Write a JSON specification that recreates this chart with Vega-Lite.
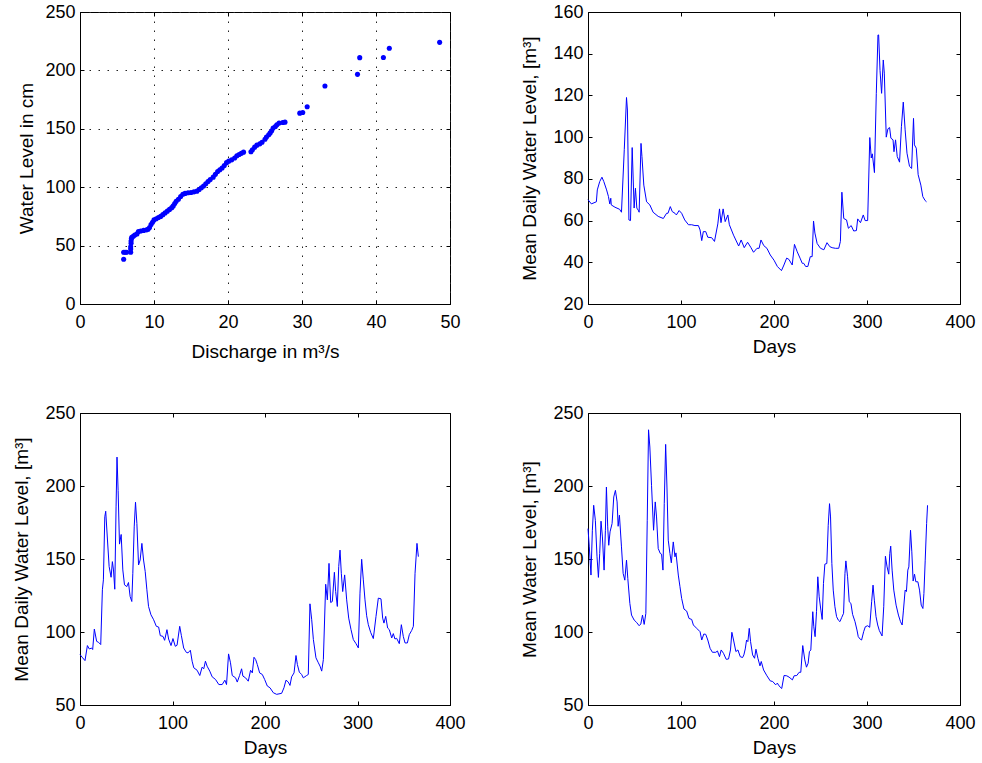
{
  "$schema": "https://vega.github.io/schema/vega-lite/v6.json",
  "background": "white",
  "padding": {"left": 12, "top": 2, "right": 5, "bottom": 5},
  "config": {
    "view": {"stroke": "#000", "strokeWidth": 1},
    "font": "Liberation Sans",
    "axis": {
      "labelFont": "Liberation Sans", "labelFontSize": 18, "labelColor": "#000",
      "titleFont": "Liberation Sans", "titleFontSize": 19, "titleFontWeight": "normal", "titleColor": "#000",
      "domainColor": "#000", "domainWidth": 1, "tickColor": "#000", "tickSize": -4, "tickWidth": 1,
      "grid": false, "gridColor": "#222", "gridDash": [1.5, 7.5], "gridWidth": 1, "gridOpacity": 1,
      "labelFlush": false, "labelOverlap": false, "titlePadding": 6
    },
    "axisX": {"labelPadding": 13},
    "axisY": {"labelPadding": 9}
  },
  "datasets": {
    "scatter": [
      {"q": 5.9, "h": 38.3}, {"q": 5.9, "h": 44.3}, {"q": 6.1, "h": 44.3}, {"q": 6.3, "h": 44.3}, {"q": 6.85, "h": 44.3},
      {"q": 6.85, "h": 47}, {"q": 6.85, "h": 49}, {"q": 6.9, "h": 52}, {"q": 6.9, "h": 54}, {"q": 6.95, "h": 56},
      {"q": 7.0, "h": 57}, {"q": 7.2, "h": 58}, {"q": 7.4, "h": 59}, {"q": 7.7, "h": 60}, {"q": 7.9, "h": 62},
      {"q": 8.2, "h": 62.5}, {"q": 8.6, "h": 63}, {"q": 9.0, "h": 63.5}, {"q": 9.2, "h": 64}, {"q": 9.4, "h": 65.5},
      {"q": 9.6, "h": 68}, {"q": 9.8, "h": 70}, {"q": 10.0, "h": 72}, {"q": 10.3, "h": 73}, {"q": 10.6, "h": 74},
      {"q": 10.9, "h": 75}, {"q": 11.2, "h": 76.5}, {"q": 11.5, "h": 78}, {"q": 11.8, "h": 79.5}, {"q": 12.1, "h": 81},
      {"q": 12.4, "h": 82.5}, {"q": 12.6, "h": 84}, {"q": 12.8, "h": 86}, {"q": 13.0, "h": 88}, {"q": 13.3, "h": 89.7},
      {"q": 13.6, "h": 92}, {"q": 13.9, "h": 94}, {"q": 14.2, "h": 94.7}, {"q": 14.6, "h": 95.2}, {"q": 15.0, "h": 95.5},
      {"q": 15.4, "h": 96}, {"q": 15.8, "h": 96.6}, {"q": 16.1, "h": 98}, {"q": 16.4, "h": 99.5}, {"q": 16.7, "h": 101},
      {"q": 17.0, "h": 103}, {"q": 17.3, "h": 104.9}, {"q": 17.6, "h": 106.5}, {"q": 18.0, "h": 108.6}, {"q": 18.3, "h": 111},
      {"q": 18.6, "h": 113.5}, {"q": 18.9, "h": 115}, {"q": 19.2, "h": 116.5}, {"q": 19.5, "h": 118.5}, {"q": 19.8, "h": 121},
      {"q": 20.1, "h": 122.3}, {"q": 20.5, "h": 123.4}, {"q": 20.9, "h": 125}, {"q": 21.2, "h": 126.9}, {"q": 21.5, "h": 128},
      {"q": 21.8, "h": 129}, {"q": 22.1, "h": 130}, {"q": 23.1, "h": 130.3}, {"q": 23.3, "h": 132}, {"q": 23.6, "h": 134.3},
      {"q": 23.9, "h": 136}, {"q": 24.3, "h": 137.1}, {"q": 24.6, "h": 138.5}, {"q": 25.0, "h": 141}, {"q": 25.2, "h": 143},
      {"q": 25.5, "h": 144.9}, {"q": 25.7, "h": 146.5}, {"q": 25.9, "h": 148.3}, {"q": 26.1, "h": 150.6}, {"q": 26.4, "h": 152},
      {"q": 26.6, "h": 153.4}, {"q": 26.9, "h": 154.9}, {"q": 27.4, "h": 155.4}, {"q": 27.7, "h": 155.7}, {"q": 29.7, "h": 163.4},
      {"q": 30.1, "h": 164}, {"q": 30.7, "h": 168.9}, {"q": 33.1, "h": 186.6}, {"q": 37.5, "h": 196.6}, {"q": 37.8, "h": 210.9},
      {"q": 41.0, "h": 211}, {"q": 41.8, "h": 219}, {"q": 48.6, "h": 224}
    ],
    "tr": [
      {"d": 0, "v": 70}, {"d": 3.6, "v": 68}, {"d": 9, "v": 69}, {"d": 10, "v": 74.7}, {"d": 12.6, "v": 78.7}, {"d": 15, "v": 80.8},
      {"d": 17, "v": 78.7}, {"d": 20, "v": 74.7}, {"d": 22, "v": 71.5}, {"d": 23.4, "v": 68}, {"d": 24.5, "v": 70.7}, {"d": 25, "v": 67.5},
      {"d": 29, "v": 66.4}, {"d": 34, "v": 65.4}, {"d": 36, "v": 64}, {"d": 39, "v": 94}, {"d": 41.4, "v": 119}, {"d": 42.4, "v": 113},
      {"d": 44, "v": 60.3}, {"d": 45.7, "v": 60}, {"d": 47.5, "v": 95}, {"d": 49.6, "v": 66}, {"d": 51, "v": 75.5}, {"d": 52.5, "v": 66},
      {"d": 54, "v": 65}, {"d": 55, "v": 64}, {"d": 57, "v": 97}, {"d": 58, "v": 90.7}, {"d": 60, "v": 77}, {"d": 63, "v": 69},
      {"d": 66.5, "v": 67.5}, {"d": 70, "v": 64}, {"d": 75.5, "v": 62}, {"d": 81, "v": 61}, {"d": 84.5, "v": 63.5}, {"d": 86, "v": 63.5},
      {"d": 88.5, "v": 66.7}, {"d": 90.6, "v": 64.3}, {"d": 93.5, "v": 63.5}, {"d": 95, "v": 62.7}, {"d": 98, "v": 64.8}, {"d": 100.7, "v": 63.5},
      {"d": 104, "v": 60.3}, {"d": 108, "v": 58}, {"d": 111.5, "v": 58}, {"d": 115, "v": 57.6}, {"d": 118.7, "v": 57.6}, {"d": 120.5, "v": 55.5},
      {"d": 122.3, "v": 50.4}, {"d": 124, "v": 54.7}, {"d": 126.6, "v": 54.7}, {"d": 128.8, "v": 52}, {"d": 133, "v": 51.8}, {"d": 136, "v": 50},
      {"d": 139.6, "v": 58.4}, {"d": 141.4, "v": 65.6}, {"d": 143, "v": 59}, {"d": 145.3, "v": 65.6}, {"d": 147.5, "v": 59.5}, {"d": 150.4, "v": 62.7},
      {"d": 152, "v": 58}, {"d": 156.5, "v": 53}, {"d": 162, "v": 47.8}, {"d": 164.7, "v": 50.7}, {"d": 168, "v": 47}, {"d": 171.6, "v": 49.6},
      {"d": 175, "v": 47.2}, {"d": 178, "v": 44.8}, {"d": 181.7, "v": 46.7}, {"d": 184, "v": 46.7}, {"d": 186, "v": 50.7}, {"d": 189, "v": 48},
      {"d": 192.4, "v": 46.7}, {"d": 196, "v": 43.5}, {"d": 200, "v": 41}, {"d": 203.6, "v": 38}, {"d": 208, "v": 36}, {"d": 210.7, "v": 38.7},
      {"d": 213.6, "v": 42}, {"d": 216, "v": 41.4}, {"d": 219.6, "v": 38.7}, {"d": 222, "v": 48.6}, {"d": 225, "v": 45}, {"d": 228, "v": 42},
      {"d": 230.4, "v": 39.5}, {"d": 232, "v": 39.5}, {"d": 234, "v": 38}, {"d": 236.4, "v": 38}, {"d": 239, "v": 42.7}, {"d": 241, "v": 42.7},
      {"d": 242.5, "v": 59.8}, {"d": 244, "v": 54}, {"d": 246.4, "v": 49}, {"d": 250, "v": 46.7}, {"d": 253.6, "v": 46}, {"d": 257, "v": 49.4},
      {"d": 260, "v": 47.5}, {"d": 262.5, "v": 47}, {"d": 266, "v": 46.7}, {"d": 269.6, "v": 46.7}, {"d": 271.4, "v": 50}, {"d": 273, "v": 73.6},
      {"d": 275, "v": 61}, {"d": 278, "v": 60.3}, {"d": 280, "v": 56.3}, {"d": 283, "v": 57.6}, {"d": 285.7, "v": 55}, {"d": 288.6, "v": 55.2},
      {"d": 290, "v": 60.8}, {"d": 293, "v": 59}, {"d": 296, "v": 62.7}, {"d": 298, "v": 60}, {"d": 300.7, "v": 60}, {"d": 303, "v": 99.8},
      {"d": 304.6, "v": 90}, {"d": 305.7, "v": 92}, {"d": 308, "v": 83}, {"d": 310, "v": 121}, {"d": 311.8, "v": 149}, {"d": 312.5, "v": 149},
      {"d": 314, "v": 132}, {"d": 315.7, "v": 121}, {"d": 317.5, "v": 137}, {"d": 318.6, "v": 130.7}, {"d": 320.7, "v": 100}, {"d": 322.5, "v": 104},
      {"d": 324.3, "v": 104.6}, {"d": 325.7, "v": 99.5}, {"d": 328, "v": 98.7}, {"d": 329, "v": 93}, {"d": 330.7, "v": 98.7}, {"d": 332.5, "v": 90.7},
      {"d": 335, "v": 88}, {"d": 337, "v": 105}, {"d": 339, "v": 116.8}, {"d": 341, "v": 103.5}, {"d": 343, "v": 92.3}, {"d": 345.7, "v": 86},
      {"d": 348, "v": 85}, {"d": 350, "v": 109}, {"d": 351, "v": 96.3}, {"d": 353, "v": 94.7}, {"d": 355, "v": 82}, {"d": 357.9, "v": 77},
      {"d": 360, "v": 71.5}, {"d": 362.5, "v": 69.6}, {"d": 364, "v": 69}
    ],
    "bl": [
      {"d": 0, "v": 84.5}, {"d": 2.9, "v": 82.3}, {"d": 5.4, "v": 80.4}, {"d": 8, "v": 90.7}, {"d": 10, "v": 88.4}, {"d": 12.7, "v": 89},
      {"d": 13.7, "v": 88}, {"d": 15.5, "v": 102}, {"d": 18, "v": 93.6}, {"d": 19.9, "v": 93}, {"d": 22.4, "v": 91.4}, {"d": 24.2, "v": 128.9},
      {"d": 25.3, "v": 135.7}, {"d": 26.8, "v": 178.9}, {"d": 27.8, "v": 182.7}, {"d": 29.7, "v": 163}, {"d": 31.5, "v": 144.8}, {"d": 33.6, "v": 137.5},
      {"d": 35, "v": 148.2}, {"d": 36.2, "v": 142.5}, {"d": 37.6, "v": 129.3}, {"d": 39, "v": 185.7}, {"d": 40, "v": 219.8}, {"d": 41.2, "v": 197},
      {"d": 42.7, "v": 160.2}, {"d": 44.5, "v": 166.8}, {"d": 46.3, "v": 142.5}, {"d": 48.1, "v": 132.3}, {"d": 50.6, "v": 131.1}, {"d": 52.4, "v": 133.9},
      {"d": 54.2, "v": 124.3}, {"d": 56, "v": 120.9}, {"d": 57.1, "v": 140.2}, {"d": 58.6, "v": 172}, {"d": 60, "v": 188.9}, {"d": 61.5, "v": 174.3},
      {"d": 63.3, "v": 145.9}, {"d": 65, "v": 149.3}, {"d": 66.9, "v": 160.7}, {"d": 68.7, "v": 149.3}, {"d": 70.5, "v": 141.4}, {"d": 72.3, "v": 128.9},
      {"d": 74.1, "v": 117.5}, {"d": 76.7, "v": 111.8}, {"d": 79.6, "v": 108.4}, {"d": 82.5, "v": 103.9}, {"d": 85, "v": 103.4}, {"d": 86.8, "v": 97.5},
      {"d": 89.7, "v": 97}, {"d": 91.5, "v": 94.3}, {"d": 94, "v": 101.6}, {"d": 95.8, "v": 95.2}, {"d": 98.4, "v": 90.7}, {"d": 100.5, "v": 95.5},
      {"d": 103, "v": 90.2}, {"d": 104.9, "v": 90.9}, {"d": 107.8, "v": 103.9}, {"d": 109.6, "v": 97.5}, {"d": 112.1, "v": 89}, {"d": 115, "v": 86},
      {"d": 116.8, "v": 85.7}, {"d": 119.3, "v": 87.5}, {"d": 121.2, "v": 80}, {"d": 123, "v": 75.5}, {"d": 126.6, "v": 73.8}, {"d": 129.5, "v": 70.2},
      {"d": 132, "v": 75.9}, {"d": 133.8, "v": 74.8}, {"d": 135.6, "v": 80}, {"d": 137.4, "v": 76.6}, {"d": 140.3, "v": 73.2}, {"d": 142.9, "v": 69.3},
      {"d": 146.5, "v": 67.5}, {"d": 150.1, "v": 64}, {"d": 153.7, "v": 64}, {"d": 156.6, "v": 67}, {"d": 158.4, "v": 64}, {"d": 160.6, "v": 85},
      {"d": 162.7, "v": 78.9}, {"d": 164.6, "v": 70.2}, {"d": 168.2, "v": 68.6}, {"d": 170, "v": 65.7}, {"d": 172.5, "v": 70.2}, {"d": 174.7, "v": 74.8},
      {"d": 176.1, "v": 69.8}, {"d": 179, "v": 68.6}, {"d": 181.9, "v": 66.3}, {"d": 184.4, "v": 73.8}, {"d": 186.3, "v": 72}, {"d": 188.1, "v": 82.7},
      {"d": 189.9, "v": 81.1}, {"d": 191.7, "v": 77.7}, {"d": 194.2, "v": 72}, {"d": 197.1, "v": 70.9}, {"d": 199.6, "v": 67.5}, {"d": 202.5, "v": 63},
      {"d": 205.4, "v": 61.8}, {"d": 209, "v": 58.4}, {"d": 212.6, "v": 57.3}, {"d": 218, "v": 58}, {"d": 220.5, "v": 61.8}, {"d": 222.7, "v": 67},
      {"d": 225.2, "v": 65.7}, {"d": 227, "v": 63.4}, {"d": 228.8, "v": 69.3}, {"d": 231.4, "v": 72}, {"d": 233.5, "v": 83.9}, {"d": 235, "v": 77.7},
      {"d": 237.1, "v": 72.5}, {"d": 239.6, "v": 70.9}, {"d": 241.4, "v": 68.6}, {"d": 245, "v": 70.2}, {"d": 246.8, "v": 70.9}, {"d": 248.6, "v": 119.3},
      {"d": 250.5, "v": 108.4}, {"d": 252.3, "v": 94.8}, {"d": 255.1, "v": 82.3}, {"d": 257.7, "v": 78.9}, {"d": 259.5, "v": 76.6}, {"d": 261.3, "v": 73.2},
      {"d": 263.1, "v": 81.1}, {"d": 265.6, "v": 132.7}, {"d": 267.4, "v": 122}, {"d": 269.2, "v": 147}, {"d": 271, "v": 120.2}, {"d": 272.8, "v": 120.9},
      {"d": 275, "v": 140.9}, {"d": 276.4, "v": 127.7}, {"d": 278.2, "v": 117.5}, {"d": 279.7, "v": 144.8}, {"d": 281.1, "v": 156.1}, {"d": 282.5, "v": 140.2},
      {"d": 284, "v": 127.7}, {"d": 286.1, "v": 139.1}, {"d": 288.3, "v": 122}, {"d": 290.5, "v": 109.5}, {"d": 293, "v": 101.6}, {"d": 295.5, "v": 94.8},
      {"d": 298.4, "v": 92}, {"d": 300.9, "v": 89.1}, {"d": 302.7, "v": 126.6}, {"d": 304.5, "v": 149.8}, {"d": 306.3, "v": 135.7}, {"d": 308.1, "v": 122},
      {"d": 309.9, "v": 111.1}, {"d": 311.7, "v": 105}, {"d": 314.2, "v": 99.8}, {"d": 317.1, "v": 95.5}, {"d": 320, "v": 110.7}, {"d": 322.5, "v": 123.2},
      {"d": 325.4, "v": 122.7}, {"d": 327.2, "v": 109.5}, {"d": 328.6, "v": 106.1}, {"d": 330.5, "v": 110.7}, {"d": 332.6, "v": 102.7}, {"d": 334.4, "v": 101.6},
      {"d": 337, "v": 95.9}, {"d": 338.7, "v": 98.9}, {"d": 340.5, "v": 95.2}, {"d": 342.3, "v": 95.7}, {"d": 345.2, "v": 92}, {"d": 347.4, "v": 105},
      {"d": 349.5, "v": 97}, {"d": 351.4, "v": 92.5}, {"d": 353.9, "v": 92.5}, {"d": 356, "v": 98.2}, {"d": 358.6, "v": 101.1}, {"d": 360.4, "v": 103.9},
      {"d": 362.2, "v": 140.2}, {"d": 364.3, "v": 160.7}, {"d": 365.8, "v": 151.6}
    ],
    "br": [
      {"d": 0, "v": 170.8}, {"d": 1.4, "v": 158.3}, {"d": 3.2, "v": 139}, {"d": 4.7, "v": 169.7}, {"d": 6.1, "v": 186.8}, {"d": 7.9, "v": 176.5},
      {"d": 9.7, "v": 151.5}, {"d": 11.2, "v": 137.4}, {"d": 12.6, "v": 153.8}, {"d": 14, "v": 175.9}, {"d": 15.5, "v": 165.1}, {"d": 17.3, "v": 142.4},
      {"d": 18.7, "v": 169.7}, {"d": 19.8, "v": 199.3}, {"d": 21.2, "v": 172}, {"d": 22.3, "v": 159.4}, {"d": 23.7, "v": 168.6}, {"d": 25.9, "v": 174.3},
      {"d": 27.7, "v": 192.5}, {"d": 29.5, "v": 197}, {"d": 31.3, "v": 189.1}, {"d": 32.4, "v": 172.4}, {"d": 33.8, "v": 180}, {"d": 36, "v": 158.3},
      {"d": 37.8, "v": 140.1}, {"d": 39.6, "v": 135.5}, {"d": 41.4, "v": 149.2}, {"d": 42.8, "v": 136.7}, {"d": 45, "v": 119.6}, {"d": 46.8, "v": 111.6},
      {"d": 49.6, "v": 108.2}, {"d": 52.2, "v": 106.6}, {"d": 55, "v": 104.3}, {"d": 56.8, "v": 105.5}, {"d": 58.6, "v": 111.6}, {"d": 60.4, "v": 105.2},
      {"d": 62.2, "v": 112.8}, {"d": 63.7, "v": 176.5}, {"d": 65.1, "v": 238.5}, {"d": 66.5, "v": 226.7}, {"d": 68.3, "v": 200.5}, {"d": 70.5, "v": 169.7},
      {"d": 72.3, "v": 189.1}, {"d": 73.7, "v": 178.8}, {"d": 75.5, "v": 157.2}, {"d": 77.7, "v": 153.8}, {"d": 79.1, "v": 153.3}, {"d": 80.6, "v": 142.4},
      {"d": 82, "v": 187.9}, {"d": 83.5, "v": 228.5}, {"d": 84.9, "v": 199.3}, {"d": 86.3, "v": 162.9}, {"d": 88.1, "v": 153.8}, {"d": 89.6, "v": 147.4},
      {"d": 91.7, "v": 161.7}, {"d": 93.5, "v": 151.5}, {"d": 94.6, "v": 154.2}, {"d": 97.1, "v": 139}, {"d": 98.9, "v": 131}, {"d": 100.7, "v": 123},
      {"d": 103.2, "v": 115.7}, {"d": 106.1, "v": 114.3}, {"d": 108.6, "v": 109.3}, {"d": 111.5, "v": 108.6}, {"d": 113.3, "v": 104.8}, {"d": 116.9, "v": 102.5},
      {"d": 120.5, "v": 100.2}, {"d": 122.3, "v": 94.5}, {"d": 124.5, "v": 98.6}, {"d": 126.6, "v": 98.4}, {"d": 128.8, "v": 94.5}, {"d": 131.3, "v": 88.8},
      {"d": 133.8, "v": 86.1}, {"d": 137.4, "v": 86.1}, {"d": 139.2, "v": 87}, {"d": 141.4, "v": 83.1}, {"d": 143.2, "v": 87.7}, {"d": 145.7, "v": 85.4},
      {"d": 148.6, "v": 81.3}, {"d": 151.1, "v": 81.5}, {"d": 153.2, "v": 87.7}, {"d": 154.7, "v": 99.8}, {"d": 156.5, "v": 94.5}, {"d": 159, "v": 86.6},
      {"d": 161.2, "v": 87.7}, {"d": 163.7, "v": 83.1}, {"d": 166.2, "v": 82.5}, {"d": 167.6, "v": 84.3}, {"d": 169.1, "v": 88.4}, {"d": 170.5, "v": 94.5},
      {"d": 171.9, "v": 93.4}, {"d": 173.4, "v": 102.5}, {"d": 174.8, "v": 93.4}, {"d": 177, "v": 84.3}, {"d": 179.1, "v": 82}, {"d": 180.6, "v": 88.2},
      {"d": 182.7, "v": 82}, {"d": 184.9, "v": 76.8}, {"d": 186.3, "v": 79.8}, {"d": 188.8, "v": 74}, {"d": 192.4, "v": 70}, {"d": 196, "v": 66.5},
      {"d": 198.6, "v": 66.1}, {"d": 201.8, "v": 63.8}, {"d": 203.6, "v": 65}, {"d": 205.4, "v": 63.1}, {"d": 208.3, "v": 61.3}, {"d": 210.8, "v": 70.2},
      {"d": 213.7, "v": 70}, {"d": 216.2, "v": 69.1}, {"d": 219.8, "v": 67.2}, {"d": 221.6, "v": 70}, {"d": 224.5, "v": 70.2}, {"d": 227, "v": 72.4},
      {"d": 228.8, "v": 72.4}, {"d": 230.9, "v": 90.7}, {"d": 233.1, "v": 80.9}, {"d": 234.9, "v": 75.9}, {"d": 236.7, "v": 78.6}, {"d": 238.1, "v": 86.6},
      {"d": 239.6, "v": 87.7}, {"d": 241.7, "v": 113.9}, {"d": 242.8, "v": 103.6}, {"d": 244.2, "v": 96.8}, {"d": 245.7, "v": 113.9}, {"d": 247.1, "v": 137.8},
      {"d": 248.6, "v": 124.1}, {"d": 250.4, "v": 115}, {"d": 251.8, "v": 108.6}, {"d": 253.2, "v": 133.3}, {"d": 254.7, "v": 146.5}, {"d": 256.8, "v": 146.9},
      {"d": 258.3, "v": 173.1}, {"d": 259.7, "v": 187.9}, {"d": 260.8, "v": 178.8}, {"d": 262.2, "v": 146.9}, {"d": 263.7, "v": 128.7}, {"d": 265.5, "v": 117.3},
      {"d": 267.3, "v": 110.5}, {"d": 269.1, "v": 108.2}, {"d": 270.9, "v": 107.1}, {"d": 272.7, "v": 109.8}, {"d": 274.8, "v": 112.8}, {"d": 276.3, "v": 140.1},
      {"d": 277.3, "v": 148.7}, {"d": 279.1, "v": 137.8}, {"d": 280.9, "v": 120.7}, {"d": 282.7, "v": 119.6}, {"d": 284.5, "v": 112.1}, {"d": 287.1, "v": 107.1},
      {"d": 289.2, "v": 101.4}, {"d": 290.6, "v": 96.8}, {"d": 292.8, "v": 95}, {"d": 294.2, "v": 94.5}, {"d": 296.4, "v": 100.2}, {"d": 298.2, "v": 103.6},
      {"d": 300.7, "v": 104.3}, {"d": 302.9, "v": 103.2}, {"d": 305, "v": 120.7}, {"d": 306.5, "v": 132.1}, {"d": 307.9, "v": 121.8}, {"d": 309.7, "v": 110.5},
      {"d": 311.5, "v": 104.8}, {"d": 313.3, "v": 100.9}, {"d": 316.2, "v": 97.3}, {"d": 318, "v": 117.3}, {"d": 319.8, "v": 151.9}, {"d": 321.6, "v": 144.6},
      {"d": 323.4, "v": 139.6}, {"d": 324.5, "v": 153.8}, {"d": 325.5, "v": 158.8}, {"d": 327, "v": 142.4}, {"d": 328.8, "v": 128.7}, {"d": 331.3, "v": 118.4},
      {"d": 333.8, "v": 111.6}, {"d": 336, "v": 107.1}, {"d": 337.8, "v": 104.8}, {"d": 339.2, "v": 115}, {"d": 341, "v": 128.7}, {"d": 342.4, "v": 127.7},
      {"d": 343.9, "v": 142.4}, {"d": 345, "v": 144.6}, {"d": 346.8, "v": 169.7}, {"d": 348.2, "v": 154.9}, {"d": 349.6, "v": 134.9}, {"d": 351.1, "v": 139.6},
      {"d": 352.5, "v": 134.4}, {"d": 354.7, "v": 134.4}, {"d": 356.5, "v": 128.7}, {"d": 358.3, "v": 118.4}, {"d": 360.1, "v": 116.1}, {"d": 361.2, "v": 126.4},
      {"d": 362.6, "v": 149.2}, {"d": 364.1, "v": 174.3}, {"d": 365.1, "v": 186.8}
    ]
  },
  "columns": 2,
  "spacing": {"row": 109, "column": 138},
  "bounds": "flush",
  "concat": [
    {
      "width": 370, "height": 292,
      "data": {"name": "scatter"},
      "layer": [
        {
          "mark": {"type": "circle", "size": 26, "color": "#0000ff", "opacity": 1},
          "encoding": {
            "x": {"field": "q", "type": "quantitative", "scale": {"domain": [0, 50], "nice": false, "zero": false},
                  "axis": {"title": "Discharge in m³/s", "values": [0, 10, 20, 30, 40, 50], "grid": true, "titlePadding": 11}},
            "y": {"field": "h", "type": "quantitative", "scale": {"domain": [0, 250], "nice": false, "zero": false},
                  "axis": {"title": "Water Level in cm", "values": [0, 50, 100, 150, 200, 250], "grid": true, "titlePadding": 8}}
          }
        },
        {
          "mark": {"type": "point", "opacity": 0},
          "encoding": {
            "x": {"field": "q", "type": "quantitative", "axis": {"orient": "top", "labels": false, "domain": false, "title": null, "values": [0, 10, 20, 30, 40, 50]}},
            "y": {"field": "h", "type": "quantitative", "axis": {"orient": "right", "labels": false, "domain": false, "title": null, "values": [0, 50, 100, 150, 200, 250]}}
          }
        }
      ],
      "resolve": {"axis": {"x": "independent", "y": "independent"}}
    },
    {
      "width": 372, "height": 292,
      "data": {"name": "tr"},
      "layer": [
        {
          "mark": {"type": "line", "color": "#0000ff", "strokeWidth": 1},
          "encoding": {
            "x": {"field": "d", "type": "quantitative", "scale": {"domain": [0, 400], "nice": false, "zero": false},
                  "axis": {"title": "Days", "values": [0, 100, 200, 300, 400]}},
            "y": {"field": "v", "type": "quantitative", "scale": {"domain": [20, 160], "nice": false, "zero": false},
                  "axis": {"title": "Mean Daily Water Level, [m³]", "values": [20, 40, 60, 80, 100, 120, 140, 160], "titlePadding": 13}}
          }
        },
        {
          "mark": {"type": "point", "opacity": 0},
          "encoding": {
            "x": {"field": "d", "type": "quantitative", "axis": {"orient": "top", "labels": false, "domain": false, "title": null, "values": [0, 100, 200, 300, 400]}},
            "y": {"field": "v", "type": "quantitative", "axis": {"orient": "right", "labels": false, "domain": false, "title": null, "values": [20, 40, 60, 80, 100, 120, 140, 160]}}
          }
        }
      ],
      "resolve": {"axis": {"x": "independent", "y": "independent"}}
    },
    {
      "width": 370, "height": 292,
      "data": {"name": "bl"},
      "layer": [
        {
          "mark": {"type": "line", "color": "#0000ff", "strokeWidth": 1},
          "encoding": {
            "x": {"field": "d", "type": "quantitative", "scale": {"domain": [0, 400], "nice": false, "zero": false},
                  "axis": {"title": "Days", "values": [0, 100, 200, 300, 400]}},
            "y": {"field": "v", "type": "quantitative", "scale": {"domain": [50, 250], "nice": false, "zero": false},
                  "axis": {"title": "Mean Daily Water Level, [m³]", "values": [50, 100, 150, 200, 250], "titlePadding": 13}}
          }
        },
        {
          "mark": {"type": "point", "opacity": 0},
          "encoding": {
            "x": {"field": "d", "type": "quantitative", "axis": {"orient": "top", "labels": false, "domain": false, "title": null, "values": [0, 100, 200, 300, 400]}},
            "y": {"field": "v", "type": "quantitative", "axis": {"orient": "right", "labels": false, "domain": false, "title": null, "values": [50, 100, 150, 200, 250]}}
          }
        }
      ],
      "resolve": {"axis": {"x": "independent", "y": "independent"}}
    },
    {
      "width": 372, "height": 292,
      "data": {"name": "br"},
      "layer": [
        {
          "mark": {"type": "line", "color": "#0000ff", "strokeWidth": 1},
          "encoding": {
            "x": {"field": "d", "type": "quantitative", "scale": {"domain": [0, 400], "nice": false, "zero": false},
                  "axis": {"title": "Days", "values": [0, 100, 200, 300, 400]}},
            "y": {"field": "v", "type": "quantitative", "scale": {"domain": [50, 250], "nice": false, "zero": false},
                  "axis": {"title": "Mean Water Level, [m³]", "values": [50, 100, 150, 200, 250], "titlePadding": 13}}
          }
        },
        {
          "mark": {"type": "point", "opacity": 0},
          "encoding": {
            "x": {"field": "d", "type": "quantitative", "axis": {"orient": "top", "labels": false, "domain": false, "title": null, "values": [0, 100, 200, 300, 400]}},
            "y": {"field": "v", "type": "quantitative", "axis": {"orient": "right", "labels": false, "domain": false, "title": null, "values": [50, 100, 150, 200, 250]}}
          }
        }
      ],
      "resolve": {"axis": {"x": "independent", "y": "independent"}}
    }
  ]
}
